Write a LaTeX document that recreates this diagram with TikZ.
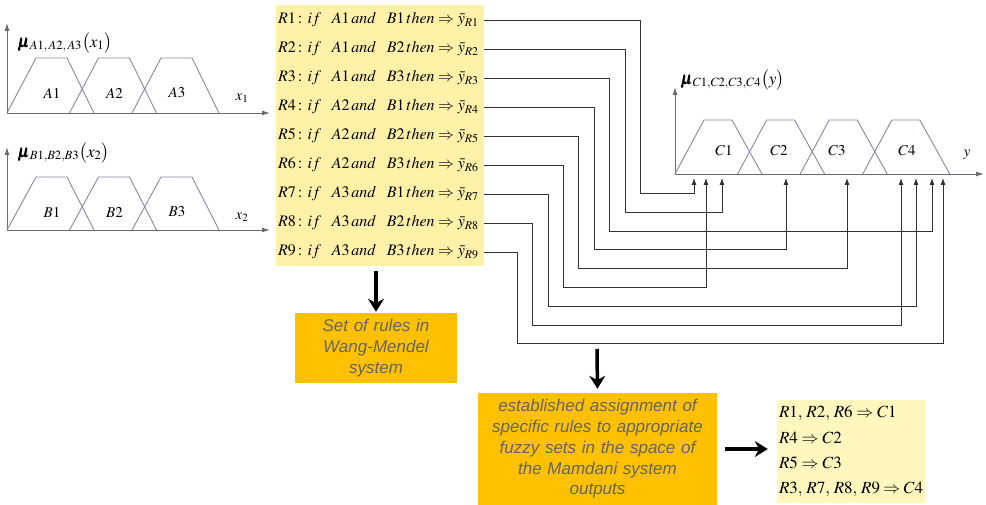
\documentclass[tikz,border=0pt]{standalone}
\usepackage{amsmath}
\usepackage{mathptmx}
\usepackage[no-math]{fontspec}
\setmainfont{Liberation Serif}
\newfontfamily\arialfont{Liberation Sans}
\usepackage{tikz}
\usetikzlibrary{positioning,arrows.meta,calc,fit,backgrounds}
\definecolor{RuleYellow}{RGB}{255,242,168}
\definecolor{PaleYellow}{RGB}{255,247,190}
\definecolor{BoxOrange}{RGB}{255,192,0}
\definecolor{MfLine}{RGB}{135,135,165}
\definecolor{GrayText}{RGB}{100,100,100}
\newcommand{\ruletext}[3]{$R#1\colon if\ \ A#2\,and\ \ B#3\,then\Rightarrow\bar{y}_{R#1}$}

\begin{document}
\begin{tikzpicture}[
    x=1pt, y=-1pt,
    axis/.style={draw=gray!85!black, line width=0.9pt, -{Latex[length=8pt,width=5pt]}},
    mf/.style={draw=MfLine, line width=0.9pt},
    mflabel/.style={font=\fontsize{15}{15}\selectfont},
    mulabel/.style={anchor=west, inner sep=0pt, font=\fontsize{17}{17}\selectfont},
    rulebox/.style={text width=204pt, minimum height=28.6pt,
        inner xsep=2pt, inner ysep=0pt, align=left, font=\fontsize{16}{16}\selectfont},
    wire/.style={draw=black!80, line width=0.8pt, -{Latex[length=7pt,width=5pt]}},
    note/.style={fill=BoxOrange, text=GrayText, align=center, inner sep=0pt,
        font=\arialfont\itshape\fontsize{17}{20.7}\selectfont},
    outcome/.style={fill=PaleYellow, align=left, inner sep=0pt,
        font=\fontsize{17}{25.3}\selectfont},
    bigarrow/.style={line width=3.5pt, -{Stealth[length=13pt,width=16pt]}}
]
\useasboundingbox (0,0) rectangle (986,505);

% membership functions of x1
\coordinate (ax1) at (7,113);
\draw[axis] (ax1) -- ++(0,-90);
\draw[axis] (ax1) -- (270,113);
\foreach \o/\n in {0/1,62.5/2,125/3}{
  \draw[mf] ($(ax1)+(\o,0)$) -- ++(29,-55) -- ++(31,0) -- ++(27,55);
  \node[mflabel] at ($(ax1)+(\o+45,-20)$) {$A\n$};
}
\node[mflabel] at (242,98) {$x_1$};
\node[mulabel] at (18,43) {$\pmb{\mu}_{A1,\,A2,\,A3}\bigl(x_1\bigr)$};

% membership functions of x2
\coordinate (ax2) at (7,230);
\draw[axis] (ax2) -- ++(0,-83);
\draw[axis] (ax2) -- (270,230);
\foreach \o/\n in {0/1,62.5/2,125/3}{
  \draw[mf] ($(ax2)+(\o,0)$) -- ++(29,-53) -- ++(31,0) -- ++(27,53);
  \node[mflabel] at ($(ax2)+(\o+45,-18)$) {$B\n$};
}
\node[mflabel] at (242,217) {$x_2$};
\node[mulabel] at (18,153) {$\pmb{\mu}_{B1,B2,B3}\bigl(x_2\bigr)$};

% output membership functions
\coordinate (ay) at (675,174);
\draw[axis] (ay) -- ++(0,-87);
\draw[axis] (ay) -- (984,174);
\foreach \o/\lx/\n in {0/724/1,62.6/779/2,125.2/837/3,187.8/907/4}{
  \draw[mf] ($(ay)+(\o,0)$) -- ++(29,-54) -- ++(28,0) -- ++(30,54);
  \node[mflabel] at (\lx,151) {$C\n$};
}
\node[mflabel] at (967,155) {$y$};
\node[mulabel] at (681,80) {$\pmb{\mu}_{C1,C2,C3,C4}\bigl(y\bigr)$};

% rules
\node[rulebox, anchor=west] (r1) at (276,20) {\ruletext{1}{1}{1}};
\node[rulebox, below=0pt of r1] (r2) {\ruletext{2}{1}{2}};
\node[rulebox, below=0pt of r2] (r3) {\ruletext{3}{1}{3}};
\node[rulebox, below=0pt of r3] (r4) {\ruletext{4}{2}{1}};
\node[rulebox, below=0pt of r4] (r5) {\ruletext{5}{2}{2}};
\node[rulebox, below=0pt of r5] (r6) {\ruletext{6}{2}{3}};
\node[rulebox, below=0pt of r6] (r7) {\ruletext{7}{3}{1}};
\node[rulebox, below=0pt of r7] (r8) {\ruletext{8}{3}{2}};
\node[rulebox, below=0pt of r8] (r9) {\ruletext{9}{3}{3}};
\begin{scope}[on background layer]
  \node[fill=RuleYellow, inner sep=0pt, fit=(r1)(r9)] (rules) {};
\end{scope}

% arrow ends under the y axis
\foreach \t/\tx in {1/694,2/706,3/722,4/786,5/847,6/901,7/916,8/932,9/943}
  \coordinate (t\t) at (\tx,178);

\foreach \r/\vx/\hy/\t in {1/640/193/1, 2/625/212/3, 3/609/231/8, 4/594/249/4,
    5/578/268/5, 6/563/287/2, 7/548/306/7, 8/532/325/6, 9/517/343/9}
  \draw[wire] (r\r.east) -| (\vx,\hy) -| (t\t);

% boxes
\node[note, minimum width=162pt, minimum height=70pt, text width=158pt] (wm) at (376,348)
  {Set of rules in\\Wang-Mendel\\system};
\node[note, minimum width=239pt, minimum height=112pt, text width=235pt] (assign) at (597.5,449)
  {established assignment of\\specific rules to appropriate\\fuzzy sets in the space of\\the Mamdani system\\outputs};
\node[outcome, minimum width=148pt, minimum height=103pt, text width=144pt] (result) at (851,451.5)
  {$R1,\,R2,\,R6 \Rightarrow C1$\\$R4 \Rightarrow C2$\\$R5 \Rightarrow C3$\\$R3,\,R7,\,R8,\,R9 \Rightarrow C4$};

\coordinate (split) at (597,349);
\draw[bigarrow, shorten <=4pt, shorten >=1pt] (rules.south -| wm.north) -- (wm.north);
\draw[bigarrow, shorten >=4pt] (split) -- (assign.north);
\draw[bigarrow, shorten <=8pt, shorten >=9pt] (assign.east) -- (assign.east -| result.west);
\end{tikzpicture}
\end{document}
